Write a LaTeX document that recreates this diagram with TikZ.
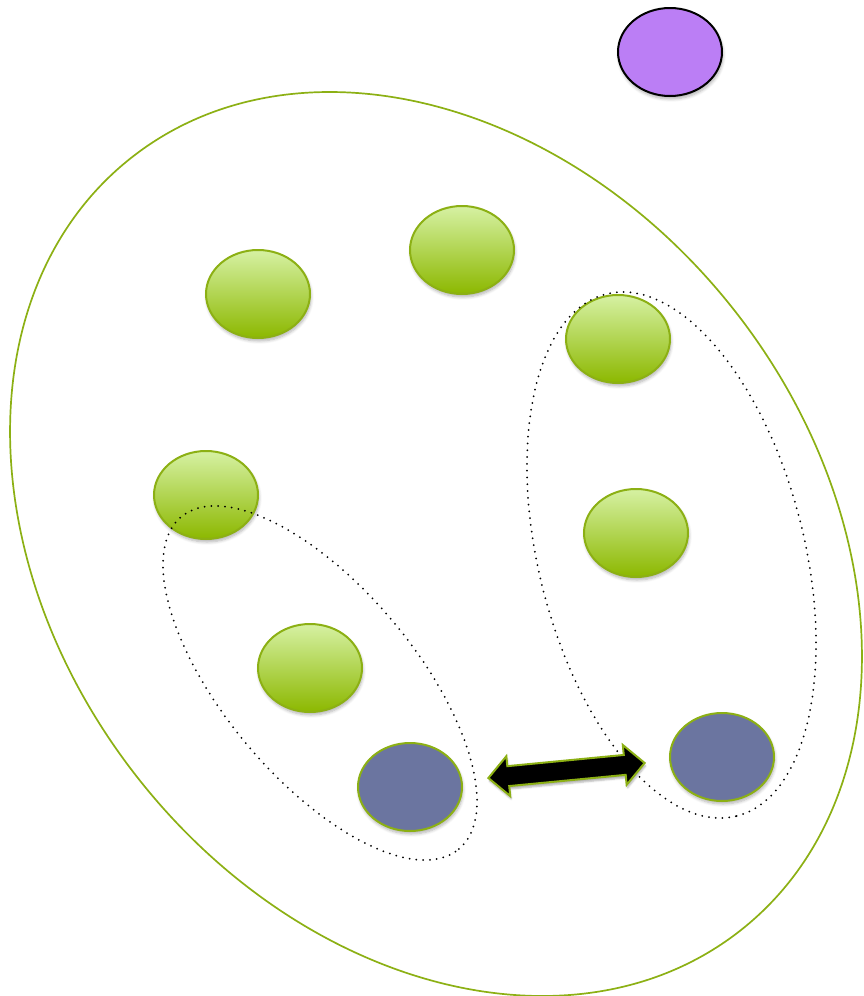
\documentclass[tikz,border=0pt]{standalone}
\usetikzlibrary{shapes.geometric,shapes.arrows,shadows.blur}
\definecolor{gborder}{RGB}{140,176,20}
\definecolor{gtop}{RGB}{214,241,163}
\definecolor{gbot}{RGB}{140,184,0}
\definecolor{bfill}{RGB}{107,117,160}
\definecolor{pfill}{RGB}{187,126,245}
\tikzset{
  blob/.style={ellipse, minimum width=104pt, minimum height=88pt, inner sep=0pt, line width=2pt,
    blur shadow={shadow xshift=1pt, shadow yshift=-3pt, shadow opacity=30, shadow blur steps=6, shadow blur radius=3pt}},
  gblob/.style={blob, draw=gborder, top color=gtop, bottom color=gbot},
  bblob/.style={blob, draw=gborder, fill=bfill},
  pblob/.style={blob, draw=black, fill=pfill},
  ring/.style={ellipse, draw=gborder, line width=1.7pt, inner sep=0pt},
  dotring/.style={ellipse, draw=black, line width=2pt, line cap=round, dash pattern=on 0pt off 6.8pt, inner sep=0pt},
}
\begin{document}
\begin{tikzpicture}[x=1pt,y=-1pt]
\useasboundingbox (0,0) rectangle (863,996);
\node[ring, minimum width=984pt, minimum height=758pt, rotate=-51.7] (all) at (436,544) {};
\node[gblob] (g1) at (258,294) {};
\node[gblob] (g2) at (462,250) {};
\node[gblob] (g3) at (618,339) {};
\node[gblob] (g4) at (206,495) {};
\node[gblob] (g5) at (636,533) {};
\node[gblob] (g6) at (310,668) {};
\node[bblob] (b1) at (410,787) {};
\node[bblob] (b2) at (722,757) {};
\node[pblob] (p) at (670,52) {};
\node[dotring, minimum width=433pt, minimum height=191pt, rotate=-50.1] (left) at (320,683) {};
\node[dotring, minimum width=538pt, minimum height=266pt, rotate=-76] (right) at (671.5,555) {};
\node[double arrow, draw=gborder, fill=black, line width=2pt, minimum height=157pt, inner sep=9pt,
  double arrow head extend=10pt, rotate=5.5,
  blur shadow={shadow xshift=1pt, shadow yshift=-3pt, shadow opacity=30}] (arr) at (566.5,770.5) {};
\end{tikzpicture}
\end{document}
